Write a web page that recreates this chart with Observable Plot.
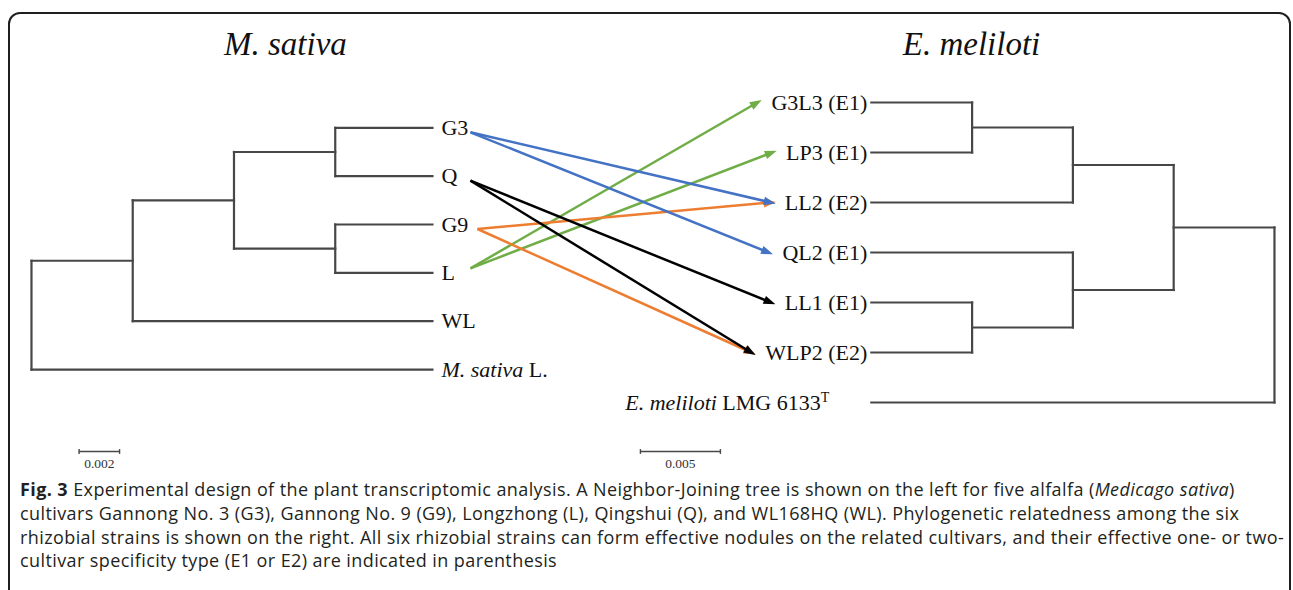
<!DOCTYPE html>
<html>
<head>
<meta charset="utf-8">
<script src="https://cdn.jsdelivr.net/npm/d3@7"></script>
<script src="https://cdn.jsdelivr.net/npm/@observablehq/plot@0.6"></script>
<style>
  html,body{margin:0;padding:0;background:#fff;}
  body{width:1293px;height:590px;overflow:hidden;position:relative;}
  #frame{position:absolute;left:8px;top:12px;width:1283px;height:640px;border:2px solid #1f1f1f;border-radius:12px;box-sizing:border-box;}
  #chart{position:absolute;left:0;top:0;}
  #caption{position:absolute;left:20px;top:478px;font-family:'Open Sans', sans-serif;font-size:18px;line-height:23.8px;color:#231f20;white-space:nowrap;}
  #caption div{display:block;}
  #caption b{font-weight:700;}
</style>
</head>
<body>
<div id="frame"></div>
<div id="chart"></div>
<div id="caption">
<div><b>Fig. 3</b> Experimental design of the plant transcriptomic analysis. A Neighbor-Joining tree is shown on the left for five alfalfa (<i>Medicago sativa</i>)</div>
<div>cultivars Gannong No. 3 (G3), Gannong No. 9 (G9), Longzhong (L), Qingshui (Q), and WL168HQ (WL). Phylogenetic relatedness among the six</div>
<div>rhizobial strains is shown on the right. All six rhizobial strains can form effective nodules on the related cultivars, and their effective one- or two-</div>
<div>cultivar specificity type (E1 or E2) are indicated in parenthesis</div>
</div>
<script>
// ---------------- DATA ----------------
const plantTitle = "M. sativa";
const strainTitle = "E. meliloti";

// Neighbor-Joining tree of alfalfa cultivars (tips top to bottom)
const plantTips = ["G3", "Q", "G9", "L", "WL", "M. sativa L."];
// [child, parent, branch length]
const plantEdges = [
  ["n1", "root", 0.0050],
  ["n2", "n1", 0.0050],
  ["n3", "n2", 0.0050],
  ["n4", "n2", 0.0050],
  ["G3", "n3", 0.0048],
  ["Q", "n3", 0.0048],
  ["G9", "n4", 0.0048],
  ["L", "n4", 0.0048],
  ["WL", "n1", 0.0148],
  ["M. sativa L.", "root", 0.0198]
];

// Rhizobial strain tree (tips top to bottom)
const strainTips = ["G3L3 (E1)", "LP3 (E1)", "LL2 (E2)", "QL2 (E1)", "LL1 (E1)", "WLP2 (E2)", "E. meliloti LMG 6133T"];
const strainOutgroup = "E. meliloti LMG 6133T";
const strainEdges = [
  ["s1", "root", 0.0063],
  ["s2", "s1", 0.0063],
  ["s3", "s2", 0.0063],
  ["s4", "s1", 0.0063],
  ["s5", "s4", 0.0063],
  ["G3L3 (E1)", "s3", 0.0063],
  ["LP3 (E1)", "s3", 0.0063],
  ["LL2 (E2)", "s2", 0.0126],
  ["QL2 (E1)", "s4", 0.0126],
  ["LL1 (E1)", "s5", 0.0063],
  ["WLP2 (E2)", "s5", 0.0063],
  ["E. meliloti LMG 6133T", "root", 0.0252]
];

// cultivar -> strain associations
const cultivars = ["G3", "Q", "G9", "L"];
const linkFrom = ["L", "L", "G9", "G9", "G3", "G3", "Q", "Q"];
const linkTo = ["G3L3 (E1)", "LP3 (E1)", "LL2 (E2)", "WLP2 (E2)", "LL2 (E2)", "QL2 (E1)", "LL1 (E1)", "WLP2 (E2)"];

// scale bars (substitutions per site)
const scaleBars = [0.002, 0.005];

// ---------------- LAYOUT / STYLE ----------------
const W = 1293, H = 475;
const X_DOMAIN = [-0.00153, 0.06232];           // plant-tree distance units across the page
const PXU = W / (X_DOMAIN[1] - X_DOMAIN[0]);    // px per unit
const ROW_PX = 48.35, ROW0_PX = 127.3;
const Y_DOMAIN = [-ROW0_PX / ROW_PX, (H - ROW0_PX) / ROW_PX];
const STRAIN_K = 0.79;           // strain tree drawn at 0.79x the plant tree scale
const STRAIN_ROOT_X = 0.06138;
const STRAIN_ROW0 = -0.5233, STRAIN_ROW_STEP = 1.0341;
const BAR_ROW = 6.695;
const BAR_X = [0.00235, 0.03007];
const TITLE_ROW = -1.714;
const TITLE_X = [0.01254, 0.04642];
const SERIF = "'Liberation Serif', 'Times New Roman', serif";
const LABEL_SIZE = 22;
const linkColors = ["#4472c4", "#000000", "#ed7d31", "#70ad47"];
const treeColor = "#474747";

function layoutTree(tips, edges) {
  const parentOf = new Map(), len = new Map(), children = new Map();
  for (const [c, p, l] of edges) {
    parentOf.set(c, p); len.set(c, l);
    if (!children.has(p)) children.set(p, []);
    children.get(p).push(c);
  }
  const depth = new Map([["root", 0]]);
  const getDepth = n => {
    if (depth.has(n)) return depth.get(n);
    const d = getDepth(parentOf.get(n)) + len.get(n);
    depth.set(n, d); return d;
  };
  const row = new Map(tips.map((t, i) => [t, i]));
  const getRow = n => {
    if (row.has(n)) return row.get(n);
    const rs = children.get(n).map(getRow);
    const r = (Math.min(...rs) + Math.max(...rs)) / 2;
    row.set(n, r); return r;
  };
  const segs = [];
  for (const [c, p] of edges) segs.push({d1: getDepth(p), r1: getRow(c), d2: getDepth(c), r2: getRow(c)});
  for (const [p, ch] of children) {
    const rs = ch.map(getRow);
    segs.push({d1: getDepth(p), r1: Math.min(...rs), d2: getDepth(p), r2: Math.max(...rs)});
  }
  return {segs, depth: getDepth, row: getRow};
}

const plant = layoutTree(plantTips, plantEdges);
const strain = layoutTree(strainTips, strainEdges);
const px = d => d;                                   // plant x
const py = r => r;                                   // plant y
const sx = d => STRAIN_ROOT_X - d * STRAIN_K;         // strain x
const sy = r => STRAIN_ROW0 + r * STRAIN_ROW_STEP;    // strain y

const treeSegs = [
  ...plant.segs.map(s => ({x1: px(s.d1), y1: py(s.r1), x2: px(s.d2), y2: py(s.r2)})),
  ...strain.segs.map(s => ({x1: sx(s.d1), y1: sy(s.r1), x2: sx(s.d2), y2: sy(s.r2)}))
];

const ctx = document.createElement("canvas").getContext("2d");
ctx.font = `${LABEL_SIZE}px 'Liberation Serif'`;

const links = linkFrom.map((f, i) => {
  const t = linkTo[i];
  const w = ctx.measureText(t).width;
  const down = strain.row(t) >= plant.row(f) - 1.5;   // start just below/above the cultivar name
  return {
    from: f,
    x1: px(plant.depth(f)) + (f === "G9" ? 45 : 38) / PXU,
    y1: py(plant.row(f)) + (down ? 4.5 : -4.5) / ROW_PX,
    x2: sx(strain.depth(t)) - (4 + w + 14) / PXU,
    y2: sy(strain.row(t))
  };
});

const plantLabels = plantTips.map(t => ({text: t, x: px(plant.depth(t)), y: py(plant.row(t))}));
const strainLabels = strainTips.filter(t => t !== strainOutgroup).map(t => ({text: t, x: sx(strain.depth(t)), y: sy(strain.row(t))}));
const outgroupLabel = [{text: strainOutgroup, x: sx(strain.depth(strainOutgroup)), y: sy(strain.row(strainOutgroup))}];

const bars = scaleBars.map((v, i) => {
  const k = i === 0 ? 1 : STRAIN_K;
  return {label: String(v), x1: BAR_X[i], x2: BAR_X[i] + v * k, y: BAR_ROW};
});
const barCaps = bars.flatMap(b => [b.x1, b.x2].map(x => ({x, y1: b.y - 0.05, y2: b.y + 0.05})));
const titles = [plantTitle, strainTitle].map((t, i) => ({text: t, x: TITLE_X[i], y: TITLE_ROW}));

function headMarker(color) {
  const ns = "http://www.w3.org/2000/svg";
  const m = document.createElementNS(ns, "marker");
  m.setAttribute("viewBox", "-12 -5 13 10");
  m.setAttribute("markerUnits", "userSpaceOnUse");
  m.setAttribute("markerWidth", 13);
  m.setAttribute("markerHeight", 10);
  m.setAttribute("refX", -4);
  m.setAttribute("refY", 0);
  m.setAttribute("orient", "auto");
  const p = document.createElementNS(ns, "path");
  p.setAttribute("d", "M-11,-4.3L1,0L-11,4.3Z");
  p.setAttribute("fill", color);
  p.setAttribute("stroke", "none");
  m.appendChild(p);
  return m;
}

function build(useMarker) {
  const linkMark = useMarker
    ? Plot.link(links, {x1: "x1", y1: "y1", x2: "x2", y2: "y2", stroke: "from", strokeWidth: 2.5, markerEnd: headMarker})
    : Plot.arrow(links, {x1: "x1", y1: "y1", x2: "x2", y2: "y2", stroke: "from", strokeWidth: 2.5, headLength: 10, headAngle: 45, insetEnd: -4});
  return Plot.plot({
    width: W, height: H, margin: 0,
    x: {domain: X_DOMAIN, axis: null},
    y: {domain: Y_DOMAIN, range: [0, H], axis: null},
    color: {type: "ordinal", domain: cultivars, range: linkColors},
    style: {background: "transparent"},
    marks: [
      Plot.link(treeSegs, {x1: "x1", y1: "y1", x2: "x2", y2: "y2", stroke: treeColor, strokeWidth: 2.2, strokeLinecap: "square"}),
      Plot.text(plantLabels, {x: "x", y: "y", text: "text", dx: 9, textAnchor: "start", fontSize: LABEL_SIZE, fontFamily: SERIF, fill: "#111"}),
      Plot.text(strainLabels, {x: "x", y: "y", text: "text", dx: -4, textAnchor: "end", fontSize: LABEL_SIZE, fontFamily: SERIF, fill: "#111"}),
      Plot.text(outgroupLabel, {x: "x", y: "y", text: "text", dx: -42, textAnchor: "end", fontSize: LABEL_SIZE, fontFamily: SERIF, fill: "#111"}),
      linkMark,
      Plot.text(titles, {x: "x", y: "y", text: "text", fontSize: 33, fontStyle: "italic", fontFamily: SERIF, fill: "#111"}),
      Plot.link(bars, {x1: "x1", x2: "x2", y1: "y", y2: "y", stroke: treeColor, strokeWidth: 1.6}),
      Plot.link(barCaps, {x1: "x", x2: "x", y1: "y1", y2: "y2", stroke: treeColor, strokeWidth: 1.4}),
      Plot.text(bars, {x: d => (d.x1 + d.x2) / 2, y: "y", text: "label", dy: 12, fontSize: 13.5, fontFamily: SERIF, fill: "#333"})
    ]
  });
}

let svg;
try { svg = build(true); } catch (e) { svg = build(false); }

const richLabels = {
  "M. sativa L.": [["M. sativa", "italic"], [" L.", "normal"]],
  "E. meliloti LMG 6133T": [["E. meliloti", "italic"], [" LMG 6133", "normal"], ["T", "sup"]]
};
svg.querySelectorAll("text").forEach(t => {
  const parts = richLabels[t.textContent];
  if (!parts) return;
  t.textContent = "";
  for (const [s, kind] of parts) {
    const ts = document.createElementNS("http://www.w3.org/2000/svg", "tspan");
    ts.textContent = s;
    if (kind === "italic") ts.setAttribute("font-style", "italic");
    if (kind === "sup") { ts.setAttribute("font-size", "14"); ts.setAttribute("dy", "-8"); }
    t.appendChild(ts);
  }
});
document.getElementById("chart").appendChild(svg);

// fit the caption's letter spacing so lines 1 and 3 together span the reference widths
const CAPTION_WIDTHS = [1222, 1257];
const cap = document.getElementById("caption");
const lines = cap.querySelectorAll("div");
let natural = 0, nChars = 0;
[lines[0], lines[2]].forEach(l => {
  l.style.display = "inline-block";
  natural += l.getBoundingClientRect().width;
  l.style.display = "block";
  nChars += l.textContent.length;
});
cap.style.letterSpacing = ((CAPTION_WIDTHS[0] + CAPTION_WIDTHS[1] - natural) / nChars).toFixed(3) + "px";
</script>
</body>
</html>
